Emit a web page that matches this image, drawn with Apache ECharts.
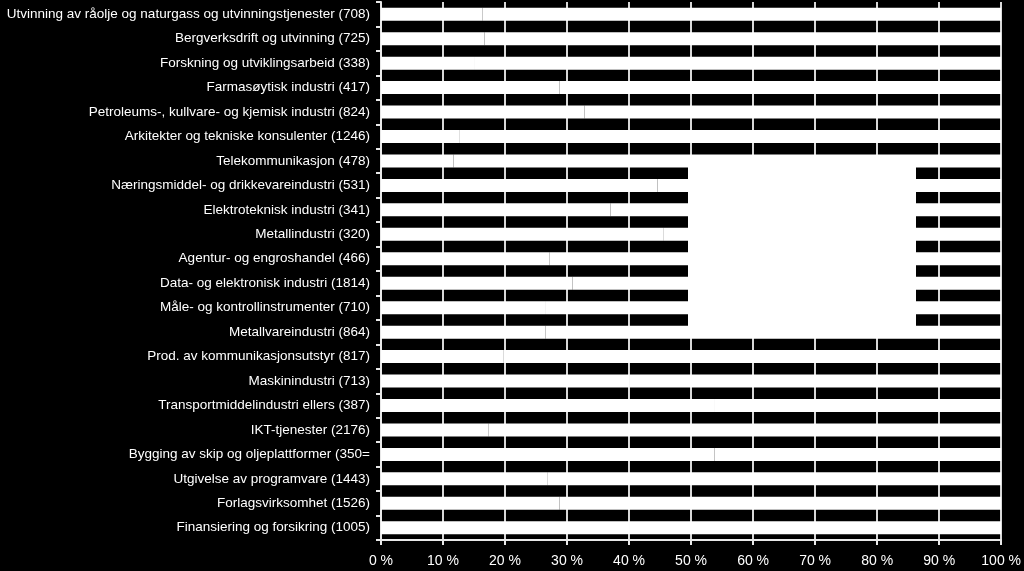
<!DOCTYPE html>
<html>
<head>
<meta charset="utf-8">
<script src="https://cdn.jsdelivr.net/npm/echarts@6/dist/echarts.min.js"></script>
<style>
html,body{margin:0;padding:0;background:#000;}
#chart{width:1024px;height:571px;}
</style>
</head>
<body>
<div id="chart"></div>
<script>
const categories = [
  "Utvinning av råolje og naturgass og utvinningstjenester (708)",
  "Bergverksdrift og utvinning (725)",
  "Forskning og utviklingsarbeid (338)",
  "Farmasøytisk industri (417)",
  "Petroleums-, kullvare- og kjemisk industri (824)",
  "Arkitekter og tekniske konsulenter (1246)",
  "Telekommunikasjon (478)",
  "Næringsmiddel- og drikkevareindustri (531)",
  "Elektroteknisk industri (341)",
  "Metallindustri (320)",
  "Agentur- og engroshandel (466)",
  "Data- og elektronisk industri (1814)",
  "Måle- og kontrollinstrumenter (710)",
  "Metallvareindustri (864)",
  "Prod. av kommunikasjonsutstyr (817)",
  "Maskinindustri (713)",
  "Transportmiddelindustri ellers (387)",
  "IKT-tjenester (2176)",
  "Bygging av skip og oljeplattformer (350=",
  "Utgivelse av programvare (1443)",
  "Forlagsvirksomhet (1526)",
  "Finansiering og forsikring (1005)"
];
const seriesA = [16.4, 16.7, 15.0, 28.8, 32.8, 12.6, 11.7, 44.6, 37.0, 45.5, 27.2, 30.9, 26.6, 26.5, 19.7, 40.1, 53.7, 17.3, 53.8, 26.9, 28.8, 40.0];
const seriesB = [83.6, 83.3, 85.0, 71.2, 67.2, 87.4, 88.3, 55.4, 63.0, 54.5, 72.8, 69.1, 73.4, 73.5, 80.3, 59.9, 46.3, 82.7, 46.2, 73.1, 71.2, 60.0];
const xTicks = [0, 10, 20, 30, 40, 50, 60, 70, 80, 90, 100];

const font = '"Liberation Sans Narrow", "Liberation Sans", sans-serif';
const chart = echarts.init(document.getElementById('chart'));
chart.setOption({
  backgroundColor: '#000',
  animation: false,
  grid: {left: 381, right: 19, top: 2, bottom: 31, containLabel: false},
  xAxis: {
    type: 'value', min: xTicks[0], max: xTicks[xTicks.length - 1], interval: 10,
    axisLine: {show: true, lineStyle: {color: '#e8e8e8', width: 2}},
    axisTick: {show: true, length: 5, lineStyle: {color: '#e8e8e8', width: 2}},
    splitLine: {show: true, lineStyle: {color: '#d8d8d8', width: 2}},
    axisLabel: {color: '#fff', fontFamily: font, fontSize: 14, margin: 14, formatter: '{value} %'}
  },
  yAxis: {
    type: 'category', data: categories, inverse: true,
    axisLine: {show: true, lineStyle: {color: '#e8e8e8', width: 2}},
    axisTick: {show: true, length: 5, lineStyle: {color: '#e8e8e8', width: 2}},
    axisLabel: {color: '#fff', fontFamily: font, fontSize: 13.5, margin: 11}
  },
  legend: {show: false},
  series: [
    {name: 'A', type: 'bar', stack: 's', data: seriesA, barWidth: 13, itemStyle: {color: '#fff'}},
    {name: 'B', type: 'bar', stack: 's', data: seriesB, barWidth: 13, itemStyle: {color: '#fff'}}
  ],
  graphic: [
    {type: 'rect', left: 688, top: 166, shape: {width: 228, height: 162}, style: {fill: '#fff'}, z: 100}
  ]
});
</script>
</body>
</html>
